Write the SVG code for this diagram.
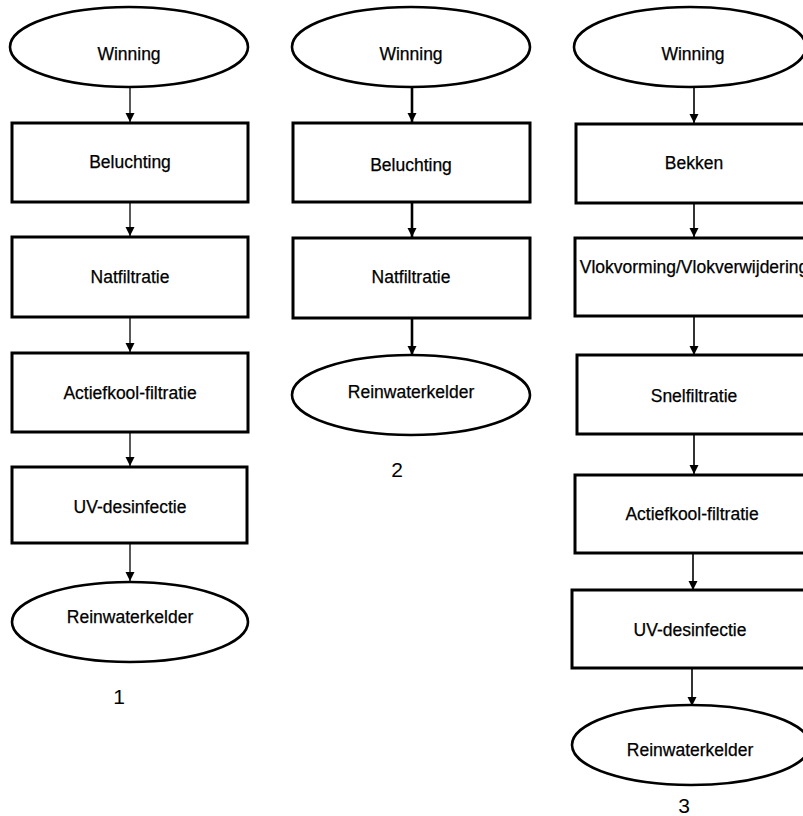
<svg xmlns="http://www.w3.org/2000/svg" width="803" height="816" viewBox="0 0 803 816">
<style>
.box{fill:#fff;stroke:#000;stroke-width:3}
.ell{fill:#fff;stroke:#000;stroke-width:2.6}
.t{font-family:"Liberation Sans",Arial,sans-serif;font-size:17.5px;text-anchor:middle;fill:#000;stroke:#000;stroke-width:0.25}
.n{font-family:"Liberation Sans",Arial,sans-serif;font-size:21px;text-anchor:middle;fill:#000}
.c1{stroke:#000;stroke-width:1.3;fill:none}
.c2{stroke:#000;stroke-width:2.6;fill:none}
.c3{stroke:#000;stroke-width:1.6;fill:none}
</style>
<defs>
<marker id="ah" markerWidth="10" markerHeight="10" refX="9" refY="5" orient="auto" markerUnits="userSpaceOnUse" viewBox="0 0 10 10">
<path d="M0,0.5 L9,5 L0,9.5 Z" fill="#000"/>
</marker>
</defs>
<rect width="803" height="816" fill="#fff"/>
<g id="connectors">
<line class="c1" x1="130" y1="88" x2="130" y2="122" marker-end="url(#ah)"/>
<line class="c1" x1="130" y1="203" x2="130" y2="236" marker-end="url(#ah)"/>
<line class="c1" x1="130" y1="318" x2="130" y2="352" marker-end="url(#ah)"/>
<line class="c1" x1="130" y1="433" x2="130" y2="466" marker-end="url(#ah)"/>
<line class="c1" x1="130" y1="544" x2="130" y2="581" marker-end="url(#ah)"/>
<line class="c2" x1="412" y1="88" x2="412" y2="122" marker-end="url(#ah)"/>
<line class="c2" x1="412" y1="203" x2="412" y2="237" marker-end="url(#ah)"/>
<line class="c2" x1="412" y1="319" x2="412" y2="355" marker-end="url(#ah)"/>
<line class="c3" x1="694" y1="88" x2="694" y2="123" marker-end="url(#ah)"/>
<line class="c3" x1="694" y1="204" x2="694" y2="237" marker-end="url(#ah)"/>
<line class="c3" x1="694" y1="317" x2="694" y2="355" marker-end="url(#ah)"/>
<line class="c3" x1="694" y1="435" x2="694" y2="474" marker-end="url(#ah)"/>
<line class="c3" x1="693" y1="554" x2="693" y2="590" marker-end="url(#ah)"/>
<line class="c3" x1="692" y1="669" x2="692" y2="706" marker-end="url(#ah)"/>
</g>
<g id="col1-winning"><ellipse class="ell" cx="129" cy="47" rx="119" ry="40"/><text class="t" x="129" y="60">Winning</text></g>
<g id="col1-beluchting"><rect class="box" x="12" y="123" width="236" height="79"/><text class="t" x="130" y="168">Beluchting</text></g>
<g id="col1-natfiltratie"><rect class="box" x="12" y="237" width="236" height="80"/><text class="t" x="130" y="283">Natfiltratie</text></g>
<g id="col1-actiefkool"><rect class="box" x="12" y="353" width="236" height="79"/><text class="t" x="130" y="399">Actiefkool-filtratie</text></g>
<g id="col1-uv"><rect class="box" x="12" y="467" width="235" height="76"/><text class="t" x="130" y="513">UV-desinfectie</text></g>
<g id="col1-rein"><ellipse class="ell" cx="130" cy="622" rx="118" ry="40"/><text class="t" x="130" y="623">Reinwaterkelder</text></g>
<g id="label1"><text class="n" x="119" y="704">1</text></g>

<g id="col2-winning"><ellipse class="ell" cx="411" cy="47" rx="119" ry="40"/><text class="t" x="411" y="60">Winning</text></g>
<g id="col2-beluchting"><rect class="box" x="293" y="123" width="237" height="79"/><text class="t" x="411" y="171">Beluchting</text></g>
<g id="col2-natfiltratie"><rect class="box" x="293" y="238" width="237" height="80"/><text class="t" x="411" y="283">Natfiltratie</text></g>
<g id="col2-rein"><ellipse class="ell" cx="411" cy="395" rx="119" ry="40"/><text class="t" x="411" y="398">Reinwaterkelder</text></g>
<g id="label2"><text class="n" x="397" y="477">2</text></g>

<g id="col3-winning"><ellipse class="ell" cx="690" cy="47" rx="116" ry="40"/><text class="t" x="693" y="60">Winning</text></g>
<g id="col3-bekken"><rect class="box" x="576" y="124" width="236" height="79"/><text class="t" x="694" y="169">Bekken</text></g>
<g id="col3-vlok"><rect class="box" x="575" y="238" width="237" height="78"/><text class="t" x="694" y="273">Vlokvorming/Vlokverwijdering</text></g>
<g id="col3-snel"><rect class="box" x="577" y="355" width="235" height="79"/><text class="t" x="694" y="402">Snelfiltratie</text></g>
<g id="col3-actiefkool"><rect class="box" x="575" y="475" width="237" height="78"/><text class="t" x="692" y="520">Actiefkool-filtratie</text></g>
<g id="col3-uv"><rect class="box" x="572" y="590" width="240" height="78"/><text class="t" x="690" y="636">UV-desinfectie</text></g>
<g id="col3-rein"><ellipse class="ell" cx="691" cy="745" rx="119" ry="40"/><text class="t" x="690" y="756">Reinwaterkelder</text></g>
<g id="label3"><text class="n" x="684" y="813">3</text></g>
</svg>
